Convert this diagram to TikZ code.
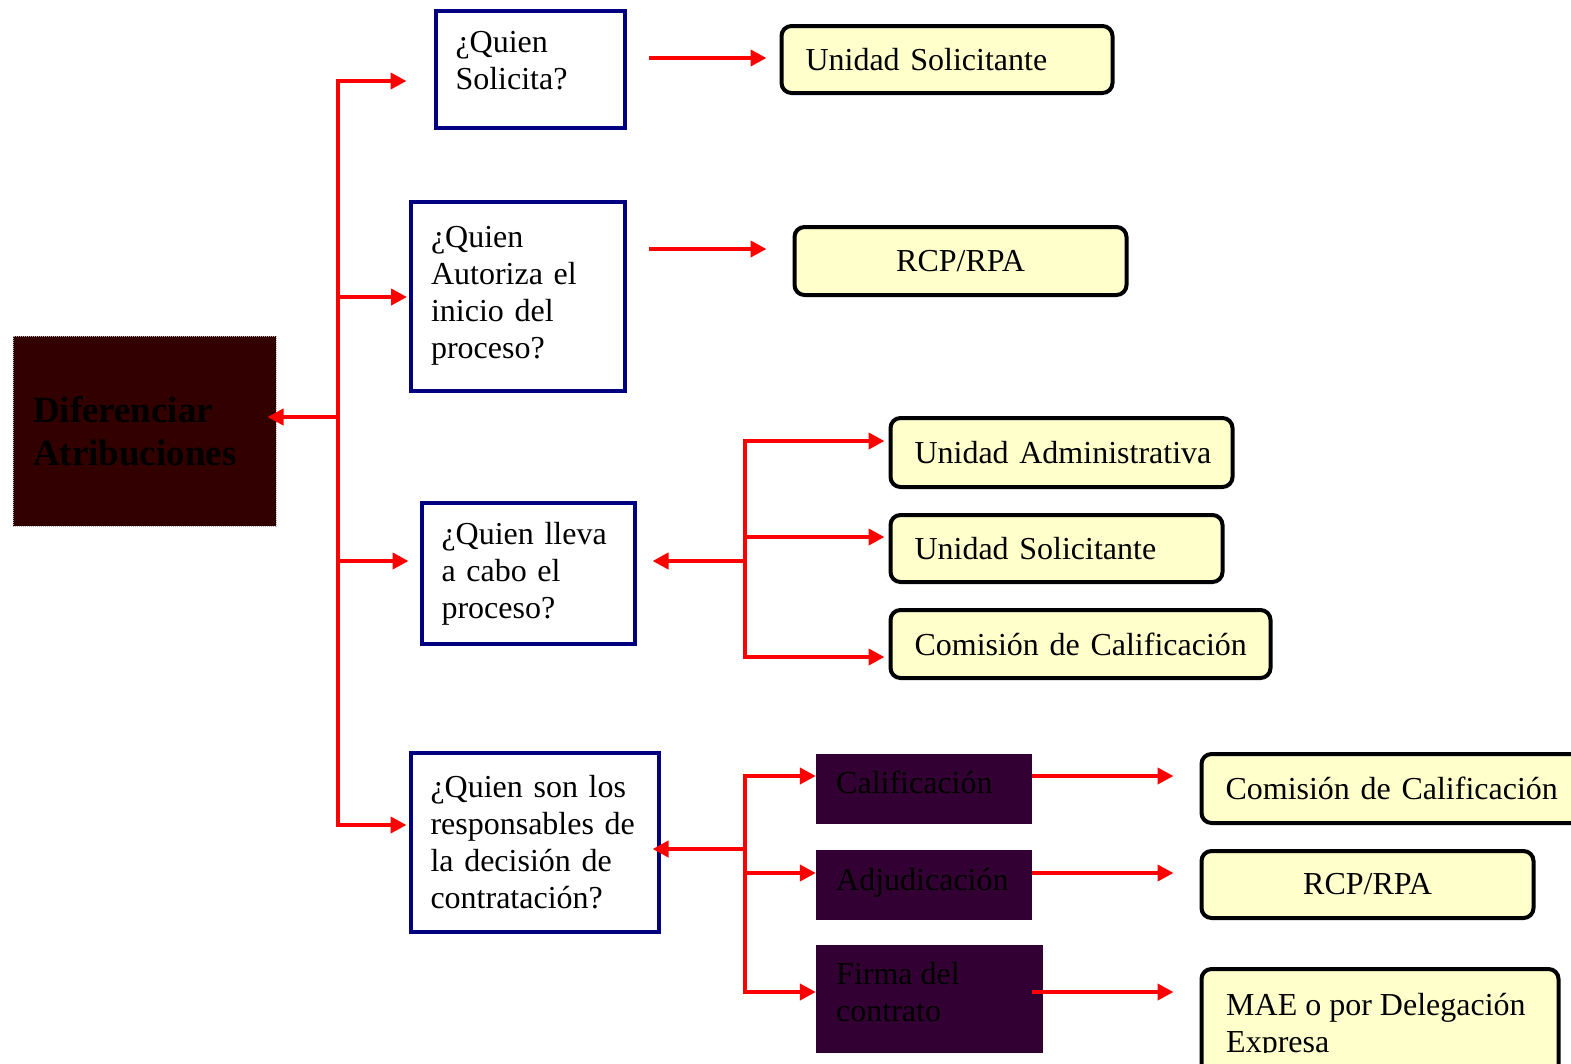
\documentclass[tikz,border=0pt]{standalone}
\usepackage{fontspec}
\setmainfont{Liberation Serif}
\usetikzlibrary{arrows.meta}
\definecolor{navyq}{HTML}{000080}
\definecolor{paleyel}{HTML}{FFFFCC}
\definecolor{maroonbox}{HTML}{330000}
\definecolor{plumbox}{HTML}{330033}
\definecolor{redln}{HTML}{FF0000}
\newcommand{\txtfont}{\fontsize{32}{37}\selectfont}
\tikzset{
  qbox/.style={draw=navyq, line width=4pt, fill=white, align=left,
    inner xsep=20pt, inner ysep=0pt, font=\txtfont},
  ybox/.style={draw=black, line width=4pt, fill=paleyel, rounded corners=10pt,
    inner xsep=24pt, inner ysep=0pt, font=\txtfont},
  pbox/.style={fill=plumbox, inner sep=0pt},
  ptext/.style={font=\txtfont, anchor=base west, align=left, inner sep=0pt, text=black},
  rline/.style={draw=redln, line width=4.5pt, line cap=rect},
  rarrow/.style={draw=redln, line width=4.5pt, -{Triangle[length=16pt,width=16pt]}},
}
\begin{document}
\begin{tikzpicture}[x=1pt,y=-1pt]
\useasboundingbox (0,0) rectangle (1571,1063);
\clip (0,0) rectangle (1571,1063);

% root box
\node[fill=maroonbox, draw=gray!60, densely dotted, line width=1pt,
      minimum width=263pt, minimum height=190pt, text width=223pt, align=left,
      inner xsep=20pt, font=\fontsize{37}{43}\selectfont\bfseries, text=black]
  (dif) at (144.5,431) {Diferenciar\\Atribuciones};

% question boxes
\node[qbox, minimum width=189pt, minimum height=117pt, text width=149pt]
  (q1) at (530,69.5) {¿Quien\\Solicita?\\[-19pt]\mbox{}};
\node[qbox, minimum width=214pt, minimum height=189pt, text width=174pt]
  (q2) at (518,296.5) {¿Quien\\Autoriza el\\inicio del\\proceso?\\[-29pt]\mbox{}};
\node[qbox, minimum width=213pt, minimum height=141pt, text width=173pt]
  (q3) at (528,573.5) {¿Quien lleva\\a cabo el\\proceso?};
\node[qbox, minimum width=248pt, minimum height=179pt, text width=208pt]
  (q4) at (534.5,842.5) {¿Quien son los\\responsables de\\la decisión de\\contratación?};

% answer boxes
\node[ybox, minimum width=331pt, minimum height=67pt, text width=283pt, align=left]
  (y1) at (947,59.5) {\mbox{Unidad Solicitante}};
\node[ybox, minimum width=332pt, minimum height=68pt, text width=284pt, align=center]
  (y2) at (960.5,261) {\mbox{RCP/RPA}};
\node[ybox, minimum width=342pt, minimum height=69pt, text width=294pt, align=left]
  (y3) at (1061.5,452.5) {\mbox{Unidad Administrativa}};
\node[ybox, minimum width=332pt, minimum height=67pt, text width=284pt, align=left]
  (y4) at (1056.5,548.5) {\mbox{Unidad Solicitante}};
\node[ybox, minimum width=380pt, minimum height=68pt, text width=332pt, align=left]
  (y5) at (1080.5,644) {\mbox{Comisión de Calificación}};
\node[ybox, minimum width=387pt, minimum height=69pt, text width=339pt, align=left]
  (y6) at (1395,788.5) {\mbox{Comisión de Calificación}};
\node[ybox, minimum width=332pt, minimum height=67pt, text width=284pt, align=center]
  (y7) at (1367.5,884.5) {\mbox{RCP/RPA}};
\node[ybox, minimum width=357pt, minimum height=139pt] (y8) at (1380,1038.5) {};
\begin{scope}
  \clip (1203,970) rectangle (1556,1052);
  \node[ptext] (y8t) at (1226,1052) {MAE o por Delegación\\Expresa};
\end{scope}

% decision stages
\node[pbox, minimum width=216pt, minimum height=70pt] (p1) at (924,789) {};
\node[ptext] (p1t) at (836,793) {Calificación};
\node[pbox, minimum width=216pt, minimum height=70pt] (p2) at (924,885) {};
\node[ptext] (p2t) at (836,890) {Adjudicación};
\node[pbox, minimum width=227pt, minimum height=108pt] (p3) at (929.5,999) {};
\node[ptext] (p3t) at (836,1021) {Firma del\\contrato};

% main trunk
\coordinate (tA) at (338,81);
\coordinate (tB) at (338,297);
\coordinate (tM) at (338,417);
\coordinate (tC) at (338,561);
\coordinate (tD) at (338,825);
\draw[rline] (tA) -- (tD);
\draw[rarrow, shorten >=-9pt] (tM) -- (tM -| dif.east);
\draw[rarrow, shorten >=27pt] (tA) -- (tA -| q1.west);
\draw[rarrow, shorten >=2pt] (tB) -- (tB -| q2.west);
\draw[rarrow, shorten >=11pt] (tC) -- (tC -| q3.west);
\draw[rarrow, shorten >=2pt] (tD) -- (tD -| q4.west);

% single answers
\coordinate (a1) at (649,58);
\coordinate (a2) at (649,249);
\draw[rarrow, shorten >=13pt] (a1) -- (a1 -| y1.west);
\draw[rarrow, shorten >=26pt] (a2) -- (a2 -| y2.west);

% who carries out the process
\coordinate (sA) at (745,441);
\coordinate (sB) at (745,537);
\coordinate (sM) at (745,561);
\coordinate (sC) at (745,657);
\draw[rline] (sA) -- (sC);
\draw[rarrow, shorten >=16pt] (sM) -- (sM -| q3.east);
\draw[rarrow, shorten >=4pt] (sA) -- (sA -| y3.west);
\draw[rarrow, shorten >=4pt] (sB) -- (sB -| y4.west);
\draw[rarrow, shorten >=4pt] (sC) -- (sC -| y5.west);

% decision responsibles
\coordinate (uA) at (745,776);
\coordinate (uM) at (745,849);
\coordinate (uB) at (745,873);
\coordinate (uC) at (745,992);
\draw[rline] (uA) -- (uC);
\draw[rarrow, shorten >=-8pt] (uM) -- (uM -| q4.east);
\draw[rarrow] (uA) -- (uA -| p1.west);
\draw[rarrow] (uB) -- (uB -| p2.west);
\draw[rarrow] (uC) -- (uC -| p3.west);

\draw[rarrow, shorten >=26pt] (p1.east |- uA) -- (uA -| y6.west);
\draw[rarrow, shorten >=26pt] (p2.east |- uB) -- (uB -| y7.west);
\draw[rarrow, shorten <=-11pt, shorten >=26pt] (p3.east |- uC) -- (uC -| y8.west);
\end{tikzpicture}
\end{document}
